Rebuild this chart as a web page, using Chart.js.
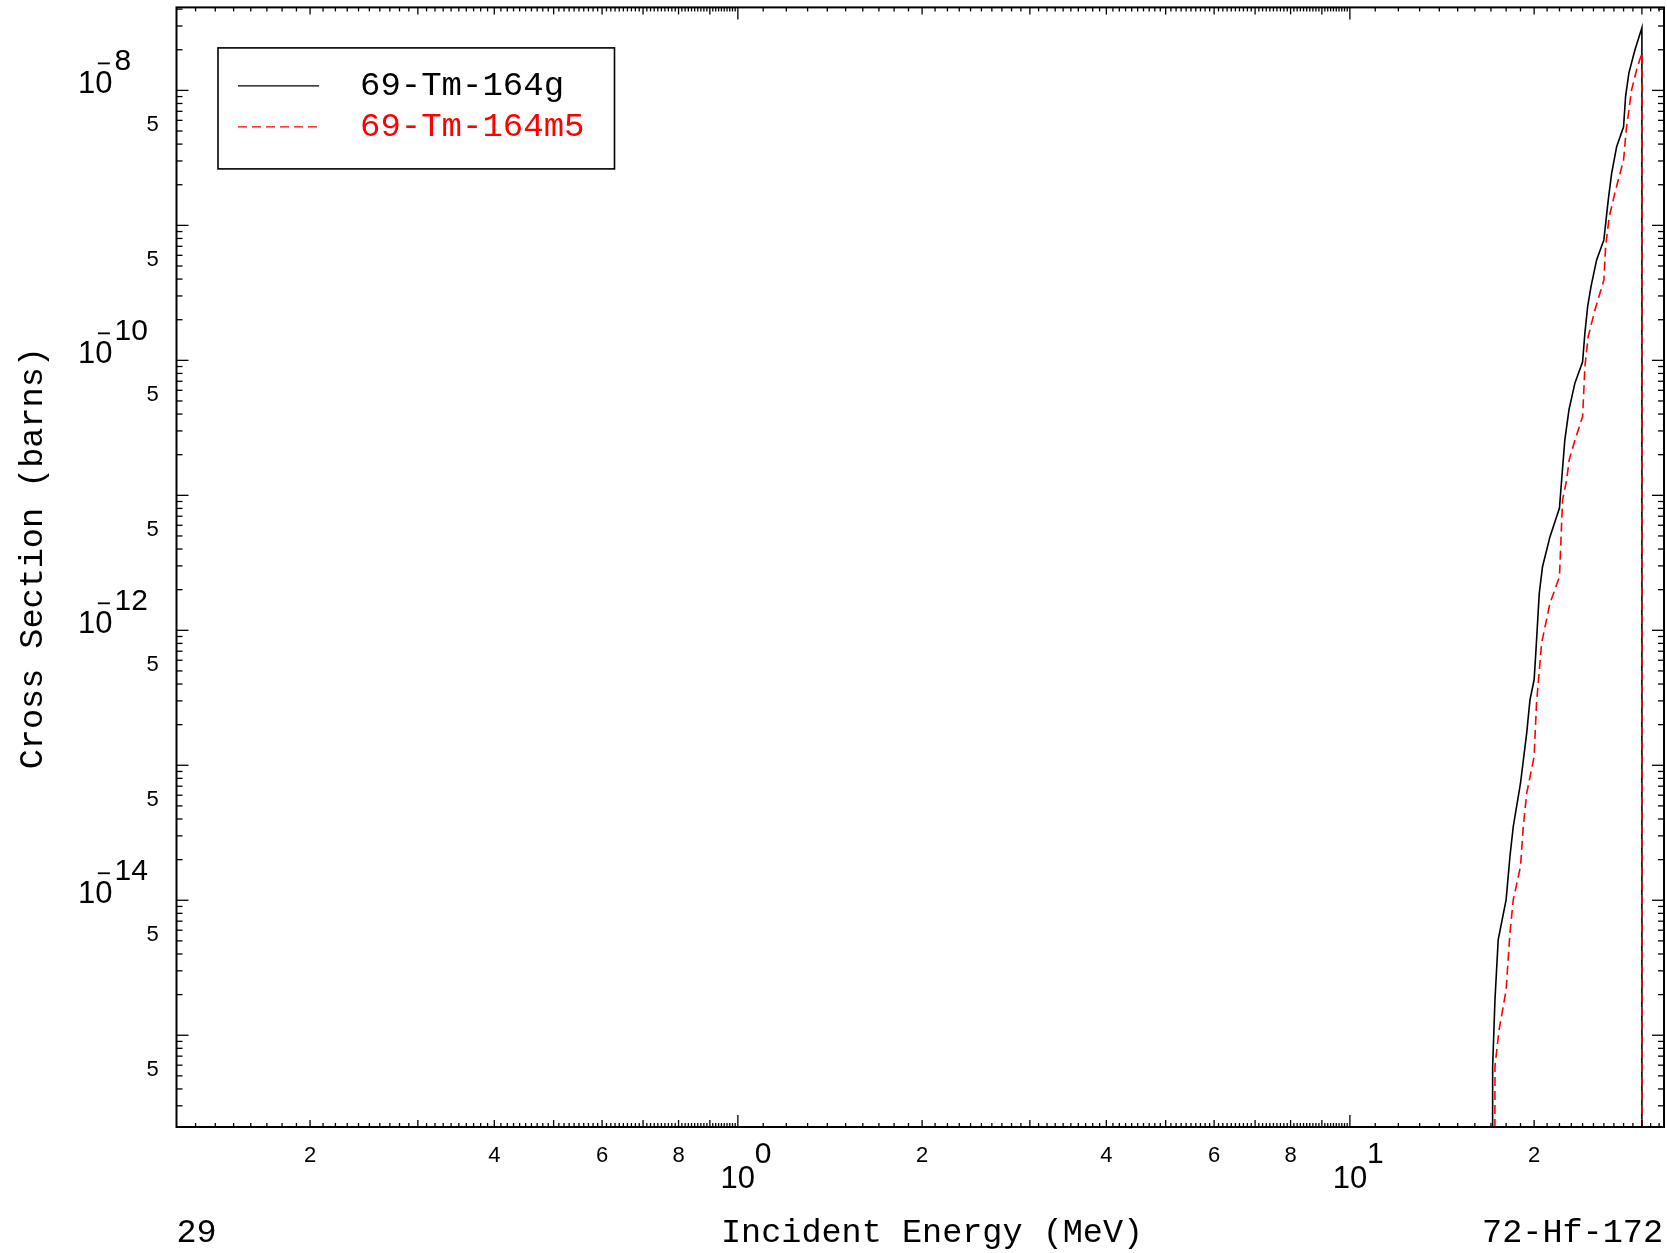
<!DOCTYPE html>
<html>
<head>
<meta charset="utf-8">
<script src="https://cdn.jsdelivr.net/npm/chart.js@4.4.1/dist/chart.umd.min.js"></script>
<style>
html,body{margin:0;padding:0;background:#ffffff;}
canvas{display:block;}
</style>
</head>
<body>
<canvas id="c" width="1667" height="1253"></canvas>
<script>
// ---------- data ----------
const seriesNames = ['69-Tm-164g', '69-Tm-164m5'];
const seriesColors = ['#000000', '#ff0000'];

const energyG = [17.06, 17.11, 17.26, 17.47, 18.0, 18.26, 18.49, 19.0, 19.45, 19.69, 20.0, 20.14, 20.39, 20.64, 21.23,
                 22.0, 22.18, 22.45, 22.80, 23.32, 24.0, 24.21, 24.46, 24.77, 25.30, 26.0, 26.43, 26.77, 27.28,
                 28.0, 28.21, 28.57, 29.22, 30.0, 30.0];
const sigmaG  = [0, 5.86e-16, 1.83e-15, 5.09e-15, 1.01e-14, 2.11e-14, 3.52e-14, 7.36e-14, 1.74e-13, 3.05e-13, 4.30e-13,
                 7.16e-13, 1.88e-12, 2.96e-12, 4.94e-12, 8.04e-12, 1.30e-11, 2.58e-11, 4.30e-11, 6.81e-11, 9.77e-11,
                 1.60e-10, 2.50e-10, 3.52e-10, 5.55e-10, 7.80e-10, 1.54e-9, 2.43e-9, 3.83e-9, 5.38e-9, 8.98e-9,
                 1.35e-8, 1.99e-8, 2.91e-8, 0];

const energyM5 = [17.10, 17.26, 17.52, 18.0, 18.26, 18.49, 19.0, 19.20, 19.45, 20.0, 20.18, 20.57, 21.23, 22.0,
                  22.26, 22.60, 22.82, 23.32, 24.0, 24.21, 24.51, 25.14, 26.0, 26.17, 26.53, 27.10, 28.0, 28.28,
                  28.86, 29.41, 30.0, 30.0];
const sigmaM5  = [0, 5.86e-16, 1.08e-15, 2.17e-15, 5.7e-15, 1.01e-14, 1.78e-14, 3.52e-14, 6.21e-14, 1.16e-13,
                  2.88e-13, 8.02e-13, 1.59e-12, 2.50e-12, 9.25e-12, 1.30e-11, 1.83e-11, 2.57e-11, 3.83e-11,
                  8.98e-11, 1.50e-10, 2.36e-10, 3.94e-10, 6.95e-10, 1.16e-9, 1.74e-9, 3.05e-9, 5.1e-9,
                  1.01e-8, 1.42e-8, 1.90e-8, 0];

const xRange = [0.121, 32.6];
const yRange = [2.09e-16, 4.12e-8];

const xDigitTicks  = [0.2, 0.4, 0.6, 0.8, 2, 4, 6, 8, 20];
const xDigitLabels = ['2', '4', '6', '8', '2', '4', '6', '8', '2'];
const xPowerTicks  = [1, 10];
const xPowerLabels = ['0', '1'];
const yPowerTicks  = [1e-8, 1e-10, 1e-12, 1e-14];
const yPowerLabels = ['8', '10', '12', '14'];   // shown as negative exponents
const yFiveTicks   = [5e-9, 5e-10, 5e-11, 5e-12, 5e-13, 5e-14, 5e-15, 5e-16];
const yFiveLabels  = ['5', '5', '5', '5', '5', '5', '5', '5'];

const xAxisTitle = 'Incident Energy (MeV)';
const yAxisTitle = 'Cross Section (barns)';
const leftNote = '29';
const rightNote = '72-Hf-172';

// ---------- helpers ----------
// a zero cross section cannot sit on a log axis: it is sent far below the plot floor so the
// line drops straight down to the bottom edge, as in the reference
const ZERO_FLOOR = 1e-30;
function toPoints(xs, ys) { return xs.map((x, i) => ({ x: x, y: ys[i] > 0 ? ys[i] : ZERO_FLOOR })); }

const MONO = '"Liberation Mono", "DejaVu Sans Mono", monospace';
const SANS = '"Liberation Sans", Arial, sans-serif';

function seg(ctx, x1, y1, x2, y2) { ctx.beginPath(); ctx.moveTo(x1, y1); ctx.lineTo(x2, y2); ctx.stroke(); }

const framePlugin = {
  id: 'frame',
  afterDraw(chart) {
    const ctx = chart.ctx, a = chart.chartArea;
    const xs = chart.scales.x, ys = chart.scales.y;
    ctx.save();
    ctx.strokeStyle = '#000';
    ctx.fillStyle = '#000';

    // x ticks (bottom and top, inward)
    ctx.lineWidth = 1.3;
    for (let e = -1; e <= 1; e++) {
      for (let m = 10; m <= 99; m++) {
        const v = m * Math.pow(10, e - 1);
        const px = xs.getPixelForValue(v);
        if (px < a.left + 1 || px > a.right - 1) continue;
        const len = (m === 10) ? 12 : (m % 10 === 0 ? 7 : 4);
        seg(ctx, px, a.bottom, px, a.bottom - len);
        seg(ctx, px, a.top, px, a.top + len);
      }
    }
    // y ticks (left and right, inward)
    for (let e = -17; e <= -7; e++) {
      for (let j = 1; j <= 9; j++) {
        const v = j * Math.pow(10, e);
        const py = ys.getPixelForValue(v);
        if (py < a.top + 1 || py > a.bottom - 1) continue;
        const len = (j === 1) ? 12 : 6;
        seg(ctx, a.left, py, a.left + len, py);
        seg(ctx, a.right, py, a.right - len, py);
      }
    }

    // frame
    ctx.lineWidth = 2;
    ctx.strokeRect(a.left, a.top, a.right - a.left, a.bottom - a.top);

    // x digit labels
    ctx.font = '22px ' + SANS;
    ctx.textAlign = 'center';
    ctx.textBaseline = 'alphabetic';
    xDigitTicks.forEach((v, i) => {
      ctx.fillText(xDigitLabels[i], xs.getPixelForValue(v), a.bottom + 35);
    });
    // x power labels
    xPowerTicks.forEach((v, i) => {
      const px = xs.getPixelForValue(v);
      ctx.font = '31px ' + SANS;
      ctx.textAlign = 'center';
      ctx.fillText('10', px, a.bottom + 61);
      ctx.font = '30px ' + SANS;
      ctx.textAlign = 'left';
      ctx.fillText(xPowerLabels[i], px + 17, a.bottom + 36);
    });

    // y power labels (10 with negative superscript)
    yPowerTicks.forEach((v, i) => {
      const py = ys.getPixelForValue(v);
      ctx.font = '31px ' + SANS;
      ctx.textAlign = 'right';
      ctx.fillText('10', a.left - 64, py + 3);
      const w0 = ctx.measureText('0').width;
      const zx = a.left - 64 - w0 / 2;
      ctx.lineWidth = 1.8;
      seg(ctx, zx - 6, py - 27, zx + 6, py - 27);
      ctx.font = '30px ' + SANS;
      ctx.textAlign = 'left';
      ctx.fillText(yPowerLabels[i], a.left - 62, py - 20);
    });
    // y "5" labels
    ctx.font = '22px ' + SANS;
    ctx.textAlign = 'center';
    yFiveTicks.forEach((v, i) => {
      ctx.fillText(yFiveLabels[i], a.left - 24, ys.getPixelForValue(v));
    });

    // axis titles and notes
    ctx.font = '33.5px ' + MONO;
    ctx.textAlign = 'left';
    ctx.fillText(xAxisTitle, 721, 1242);
    ctx.fillText(leftNote, a.left, 1242);
    ctx.textAlign = 'right';
    ctx.fillText(rightNote, a.right - 1, 1242);
    ctx.save();
    ctx.translate(42, (a.top + a.bottom) / 2 - 9);
    ctx.rotate(-Math.PI / 2);
    ctx.textAlign = 'center';
    ctx.fillText(yAxisTitle, 0, 0);
    ctx.restore();

    // legend box
    const lx = a.left + 41.5, ly = a.top + 40.5, lw = 396.5, lh = 121;
    ctx.fillStyle = '#fff';
    ctx.fillRect(lx, ly, lw, lh);
    ctx.lineWidth = 1.6;
    ctx.strokeStyle = '#000';
    ctx.strokeRect(lx, ly, lw, lh);
    const rowsY = [ly + 38, ly + 79];
    chart.data.datasets.forEach((ds, i) => {
      const yy = rowsY[i];
      ctx.strokeStyle = ds.borderColor;
      ctx.lineWidth = 1.4;
      ctx.setLineDash(ds.borderDash || []);
      seg(ctx, lx + 20, yy, lx + 101, yy);
      ctx.setLineDash([]);
      ctx.fillStyle = ds.borderColor;
      ctx.font = '34px ' + MONO;
      ctx.textAlign = 'left';
      ctx.textBaseline = 'middle';
      ctx.fillText(ds.label, lx + 142, yy);
    });
    ctx.restore();
  }
};

new Chart(document.getElementById('c'), {
  type: 'line',
  data: {
    datasets: [
      {
        label: seriesNames[0],
        data: toPoints(energyG, sigmaG),
        borderColor: seriesColors[0],
        borderWidth: 1.6,
        pointRadius: 0,
        fill: false,
        tension: 0,
        order: 1
      },
      {
        label: seriesNames[1],
        data: toPoints(energyM5, sigmaM5),
        borderColor: seriesColors[1],
        borderWidth: 1.6,
        borderDash: [9, 5],
        pointRadius: 0,
        fill: false,
        tension: 0,
        order: 0
      }
    ]
  },
  options: {
    responsive: false,
    devicePixelRatio: 1,
    animation: false,
    layout: { padding: { left: 176.5, right: 3, top: 7.4, bottom: 126 } },
    scales: {
      x: { type: 'logarithmic', min: xRange[0], max: xRange[1], display: false },
      y: { type: 'logarithmic', min: yRange[0], max: yRange[1], display: false }
    },
    plugins: {
      legend: { display: false },
      tooltip: { enabled: false }
    }
  },
  plugins: [framePlugin]
});
</script>
</body>
</html>
